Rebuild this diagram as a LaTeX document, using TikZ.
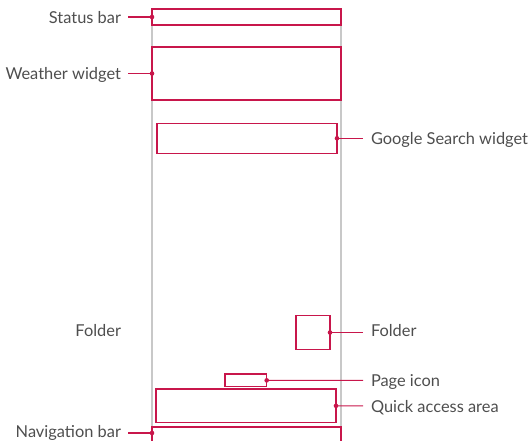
\documentclass[tikz,border=0pt]{standalone}
\usepackage{fontspec}
\setmainfont{Lato}
\definecolor{lgred}{RGB}{200,22,75}
\definecolor{framegray}{RGB}{200,200,200}
\definecolor{txt}{RGB}{78,78,78}
\begin{document}
\begin{tikzpicture}[x=1pt,y=-1pt,
  box/.style={draw=lgred, line width=1.05pt, inner sep=0pt, outer sep=0pt, anchor=north west},
  lead/.style={draw=lgred, line width=1.05pt},
  dotmark/.style={circle, fill=lgred, inner sep=0pt, outer sep=0pt, minimum size=4.6pt},
  lbl/.style={text=txt, font=\fontsize{16.4}{19}\selectfont, inner sep=0pt, outer sep=0pt},
  rlbl/.style={lbl, anchor=base west},
  llbl/.style={lbl, anchor=base east}]
\useasboundingbox (0,0) rectangle (531,441);
\clip (0,0) rectangle (531,441);
% phone frame
\coordinate (fl1) at (152,20);
\coordinate (fl2) at (152,441);
\coordinate (fr1) at (341,20);
\coordinate (fr2) at (341,441);
\draw[framegray, line width=1.1pt] (fl1) -- (fl2);
\draw[framegray, line width=1.1pt] (fr1) -- (fr2);
% boxes
\node[box, fill=white, minimum width=189pt, minimum height=16pt] (status) at (152,9) {};
\node[box, fill=white, minimum width=189pt, minimum height=53pt] (weather) at (152,47) {};
\node[box, minimum width=180pt, minimum height=30pt] (google) at (157,123.3) {};
\node[box, minimum width=34pt, minimum height=33.6pt] (folder) at (296,315.7) {};
\node[box, minimum width=41.7pt, minimum height=12.7pt] (page) at (225,374) {};
\node[box, minimum width=180pt, minimum height=33.7pt] (quick) at (156,389) {};
\node[box, fill=white, minimum width=189pt, minimum height=20pt] (nav) at (152,427) {};
% dots
\node[dotmark] (dstatus) at (status.west) {};
\node[dotmark] (dweather) at (weather.west) {};
\node[dotmark] (dgoogle) at (google.east) {};
\node[dotmark] (dfolder) at (folder.east) {};
\node[dotmark] (dpage) at (page.east) {};
\node[dotmark] (dquick) at (quick.east) {};
\node[dotmark] (dnav) at (nav.north west |- 0,433) {};
% leader end points
\coordinate (estatus) at (128,17);
\coordinate (eweather) at (128,73.5);
\coordinate (egoogle) at (363,138.3);
\coordinate (efolder) at (363,332.5);
\coordinate (epage) at (363,380.3);
\coordinate (equick) at (363,405.8);
\coordinate (enav) at (128,433);
\draw[lead] (dstatus.center) -- (estatus);
\draw[lead] (dweather.center) -- (eweather);
\draw[lead] (dgoogle.center) -- (egoogle);
\draw[lead] (dfolder.center) -- (efolder);
\draw[lead] (dpage.center) -- (epage);
\draw[lead] (dquick.center) -- (equick);
\draw[lead] (dnav.center) -- (enav);
% labels
\node[llbl] (tstatus) at (121,23.3) {Status bar};
\node[llbl] (tweather) at (121,80) {Weather widget};
\node[llbl] (tfolderl) at (121,337) {Folder};
\node[llbl] (tnav) at (121,437.5) {Navigation bar};
\node[rlbl] (tgoogle) at (371,145) {Google Search widget};
\node[rlbl] (tfolder) at (371,337) {Folder};
\node[rlbl] (tpage) at (371,386.5) {Page icon};
\node[rlbl] (tquick) at (371,412.3) {Quick access area};
\end{tikzpicture}
\end{document}
